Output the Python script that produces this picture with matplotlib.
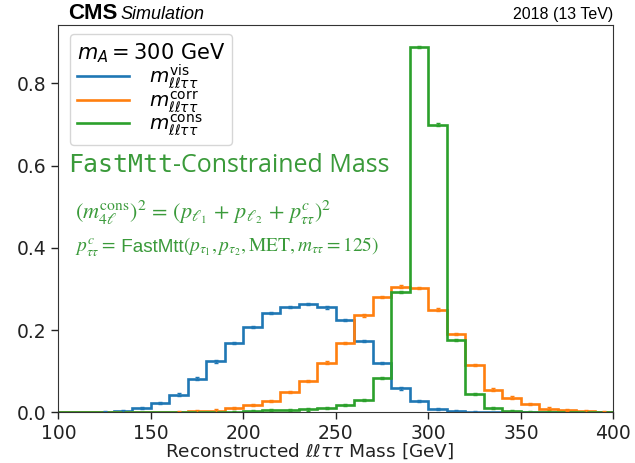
import numpy as np
import matplotlib
matplotlib.use("Agg")
import matplotlib.pyplot as plt

# 10 GeV bins from 100 to 400 GeV
edges = np.arange(100, 401, 10)

m_vis = [0.0, 0.0, 0.001, 0.003, 0.010, 0.022, 0.043, 0.082, 0.124, 0.169,
         0.208, 0.241, 0.256, 0.264, 0.255, 0.225, 0.174, 0.120, 0.058, 0.028,
         0.008, 0.003, 0.001, 0.0, 0.0, 0.0, 0.0, 0.0, 0.0, 0.0]
m_corr = [0.0, 0.0, 0.0, 0.0, 0.0, 0.0, 0.001, 0.002, 0.004, 0.010,
          0.018, 0.028, 0.049, 0.076, 0.121, 0.168, 0.236, 0.281, 0.306, 0.303,
          0.250, 0.190, 0.115, 0.055, 0.036, 0.020, 0.009, 0.005, 0.003, 0.001]
m_cons = [0.0, 0.0, 0.0, 0.0, 0.0, 0.0, 0.0, 0.0, 0.0, 0.001,
          0.003, 0.005, 0.006, 0.007, 0.010, 0.018, 0.030, 0.083, 0.293, 0.889,
          0.700, 0.176, 0.045, 0.011, 0.003, 0.001, 0.001, 0.0, 0.0, 0.0]
stat_err = 0.003

labels = [r"$m_{\ell\ell\tau\tau}^{\mathrm{vis}}$",
          r"$m_{\ell\ell\tau\tau}^{\mathrm{corr}}$",
          r"$m_{\ell\ell\tau\tau}^{\mathrm{cons}}$"]
colors = ["#1f77b4", "#ff7f0e", "#2ca02c"]

fig = plt.figure(figsize=(6.35, 4.63), dpi=100)
ax = fig.add_axes([0.092, 0.1095, 0.874, 0.8355])

centers = 0.5 * (edges[1:] + edges[:-1])
for vals, lab, col in zip([m_vis, m_corr, m_cons], labels, colors):
    ax.stairs(vals, edges, color=col, lw=1.9, label=lab)
    vals = np.asarray(vals)
    nz = vals > 0
    ax.errorbar(centers[nz], vals[nz], yerr=stat_err, fmt="none",
                ecolor=col, elinewidth=1.0, capsize=1.5, capthick=1.0)

ax.set_xlim(100, 400)
ax.set_ylim(0, 0.941)
ax.set_yticks([0.0, 0.2, 0.4, 0.6, 0.8])
ax.tick_params(labelsize=13.5, length=5, width=1, colors="#222222")
for s in ax.spines.values():
    s.set_color("#333333")
ax.set_xlabel(r"Reconstructed $\ell\ell\tau\tau$ Mass [GeV]", fontsize=13.3,
              color="#222222")
ax.xaxis.set_label_coords(0.453, -0.075)

leg = ax.legend(loc="upper left", title=r"$m_A = 300$ GeV", fontsize=14.3,
                title_fontsize=15, handlelength=2.6, labelspacing=-0.12,
                handletextpad=1.0, borderpad=0.35, borderaxespad=0.45,
                bbox_to_anchor=(0.005, 1.0))
leg._legend_box.align = "left"

# header
fig.text(0.107, 0.958, "CMS", fontsize=16, fontweight="bold",
         family="Liberation Sans", va="baseline")
fig.text(0.190, 0.958, "Simulation", fontsize=13, style="italic",
         family="Liberation Sans", va="baseline")
fig.text(0.966, 0.958, "2018 (13 TeV)", fontsize=11.5,
         family="Liberation Sans", ha="right", va="baseline")

# FastMtt annotation, written as consecutive pieces on one baseline
tg = "#3a9a3a"
fig.canvas.draw()
inv = ax.transAxes.inverted()


def put_pieces(x, y, pieces):
    for s, kw in pieces:
        t = ax.text(x, y, s, transform=ax.transAxes, color=tg,
                    va="baseline", **kw)
        bb = t.get_window_extent(renderer=fig.canvas.get_renderer())
        x = inv.transform((bb.x1, bb.y0))[0]


put_pieces(0.018, 0.622, [
    ("FastMtt", dict(fontsize=18, family="DejaVu Sans Mono")),
    ("-Constrained Mass", dict(fontsize=18, family="Open Sans")),
])

put_pieces(0.03, 0.50, [
    (r"$(m_{4\ell}^{\mathrm{cons}})^2 \/=\/ (p_{\ell_1} \/+\/ p_{\ell_2} \/+\/ p_{\tau\tau}^{c})^2$",
     dict(fontsize=16, math_fontfamily="stix")),
])
stix2 = dict(fontsize=14, math_fontfamily="stix")
put_pieces(0.03, 0.415, [
    (r"$p_{\tau\tau}^{c} =$", stix2),
    (" FastMtt", dict(fontsize=13.7, family="Liberation Sans")),
    (r"$(p_{\tau_1}, p_{\tau_2}, \mathrm{MET}, m_{\tau\tau} = 125)$", stix2),
])

fig.savefig("out.png", dpi=100)
